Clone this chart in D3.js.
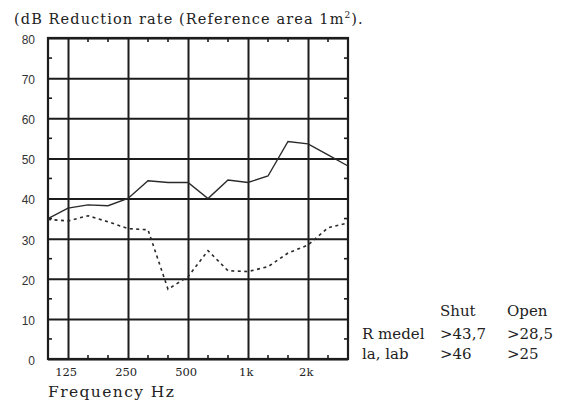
<!DOCTYPE html>
<html>
<head>
<meta charset="utf-8">
<script src="https://cdn.jsdelivr.net/npm/d3@7"></script>
<style>
body { margin: 0; background: #fff; }
svg { display: block; }
</style>
</head>
<body>
<svg id="chart" width="565" height="405"></svg>
<script>
// third-octave bands 100 Hz - 3150 Hz
var bands = [100,125,160,200,250,315,400,500,630,800,1000,1250,1600,2000,2500,3150];
var shutVals = [35,37.6,38.4,38.2,40,44.4,44,44,40,44.6,44,45.6,54.2,53.6,50.9,48.1];
var openVals = [34.8,34.4,35.7,34.2,32.5,32.2,17.4,20.5,27,22,21.8,23,26.4,28.4,32.7,33.9];
var xTicks = [125,250,500,1000,2000];
var xTickLabels = ["125","250","500","1k","2k"];
var yTicks = [0,10,20,30,40,50,60,70,80];
var yMinor = [5,15,25,35,45,55,65,75];
var minorBands = [160,200,315,400,630,800,1250,1600,2500];
var legendHead = ["Shut","Open"];
var legendRows = [["R medel",">43,7",">28,5"],["la, lab",">46",">25"]];

var svg = d3.select("#chart");
var pLeft = 48, pRight = 348, pTop = 38, pBottom = 359;
var ink = "#1c1c1c";
var serif = "DejaVu Serif";

var x = d3.scalePoint()
	.domain(bands)
	.range([pLeft, pRight]);

var y = d3.scaleLinear()
	.domain([0, 80])
	.range([pBottom, pTop]);

// title
var title = svg.append("text")
	.attr("x", 14)
	.attr("y", 24)
	.style("font-family", serif)
	.style("font-size", "14.5px")
	.style("letter-spacing", "1.1px")
	.attr("fill", "#222");
title.append("tspan").text("(dB Reduction rate (Reference area 1m");
title.append("tspan").attr("dy", -6).style("font-size", "9px").text("2");
title.append("tspan").attr("dy", 6).text(").");

// horizontal grid + y labels
var yAxis = svg.append("g")
	.attr("transform", "translate(" + pLeft + ",0)")
	.call(d3.axisLeft(y).tickValues(yTicks).tickSize(-(pRight - pLeft)).tickPadding(13));
yAxis.select(".domain").remove();
yAxis.selectAll("line")
	.attr("stroke", ink)
	.attr("stroke-width", 2);
yAxis.selectAll("text")
	.attr("dy", "0.45em")
	.style("font-family", "Liberation Sans")
	.style("font-size", "12px")
	.attr("fill", "#333");

// vertical grid + x labels
var xAxis = svg.append("g")
	.attr("transform", "translate(0," + pBottom + ")")
	.call(d3.axisBottom(x).tickValues(xTicks).tickSize(-(pBottom - pTop)).tickPadding(9)
		.tickFormat(function(d,i){return xTickLabels[i];}));
xAxis.select(".domain").remove();
xAxis.selectAll("line")
	.attr("stroke", ink)
	.attr("stroke-width", 2);
xAxis.selectAll("text")
	.attr("dx", "-0.2em")
	.style("font-family", serif)
	.style("font-size", "11.5px")
	.attr("fill", "#222");

// frame
svg.append("rect")
	.attr("x", pLeft)
	.attr("y", pTop)
	.attr("width", pRight - pLeft)
	.attr("height", pBottom - pTop)
	.attr("fill", "none")
	.attr("stroke", ink)
	.attr("stroke-width", 2.2);

// minor ticks on all four sides
var ticks = svg.append("g").attr("stroke", ink).attr("stroke-width", 1.6);
yMinor.forEach(function(v){
	ticks.append("line").attr("x1", pLeft).attr("x2", pLeft + 4).attr("y1", y(v)).attr("y2", y(v));
	ticks.append("line").attr("x1", pRight - 4).attr("x2", pRight).attr("y1", y(v)).attr("y2", y(v));
});
minorBands.forEach(function(f){
	ticks.append("line").attr("x1", x(f)).attr("x2", x(f)).attr("y1", pTop).attr("y2", pTop + 4);
	ticks.append("line").attr("x1", x(f)).attr("x2", x(f)).attr("y1", pBottom - 4).attr("y2", pBottom);
});

// curves
var line = d3.line()
	.x(function(d,i){return x(bands[i]);})
	.y(function(d){return y(d);});

svg.append("path")
	.datum(shutVals)
	.attr("d", line)
	.attr("fill", "none")
	.attr("stroke", "#2a2a2a")
	.attr("stroke-width", 1.4);

svg.append("path")
	.datum(openVals)
	.attr("d", line)
	.attr("fill", "none")
	.attr("stroke", "#2a2a2a")
	.attr("stroke-width", 1.6)
	.attr("stroke-dasharray", "3,3.5");

// axis title
svg.append("text")
	.attr("x", 48)
	.attr("y", 397)
	.style("font-family", serif)
	.style("font-size", "15.5px")
	.style("letter-spacing", "1.4px")
	.attr("fill", "#222")
	.text("Frequency Hz");

// legend table
var colX = [362, 440, 507];
var legend = svg.append("g")
	.style("font-family", serif)
	.style("font-size", "15px")
	.attr("fill", "#222");
legend.selectAll("text.head")
	.data(legendHead)
	.enter()
	.append("text")
	.attr("class", "head")
	.attr("x", function(d,i){return colX[i+1];})
	.attr("y", 316)
	.text(function(d){return d;});
legendRows.forEach(function(row, r){
	legend.selectAll("text.row" + r)
		.data(row)
		.enter()
		.append("text")
		.attr("class", "row" + r)
		.attr("x", function(d,i){return colX[i];})
		.attr("y", 339 + r * 20)
		.text(function(d){return d;});
});
</script>
</body>
</html>
